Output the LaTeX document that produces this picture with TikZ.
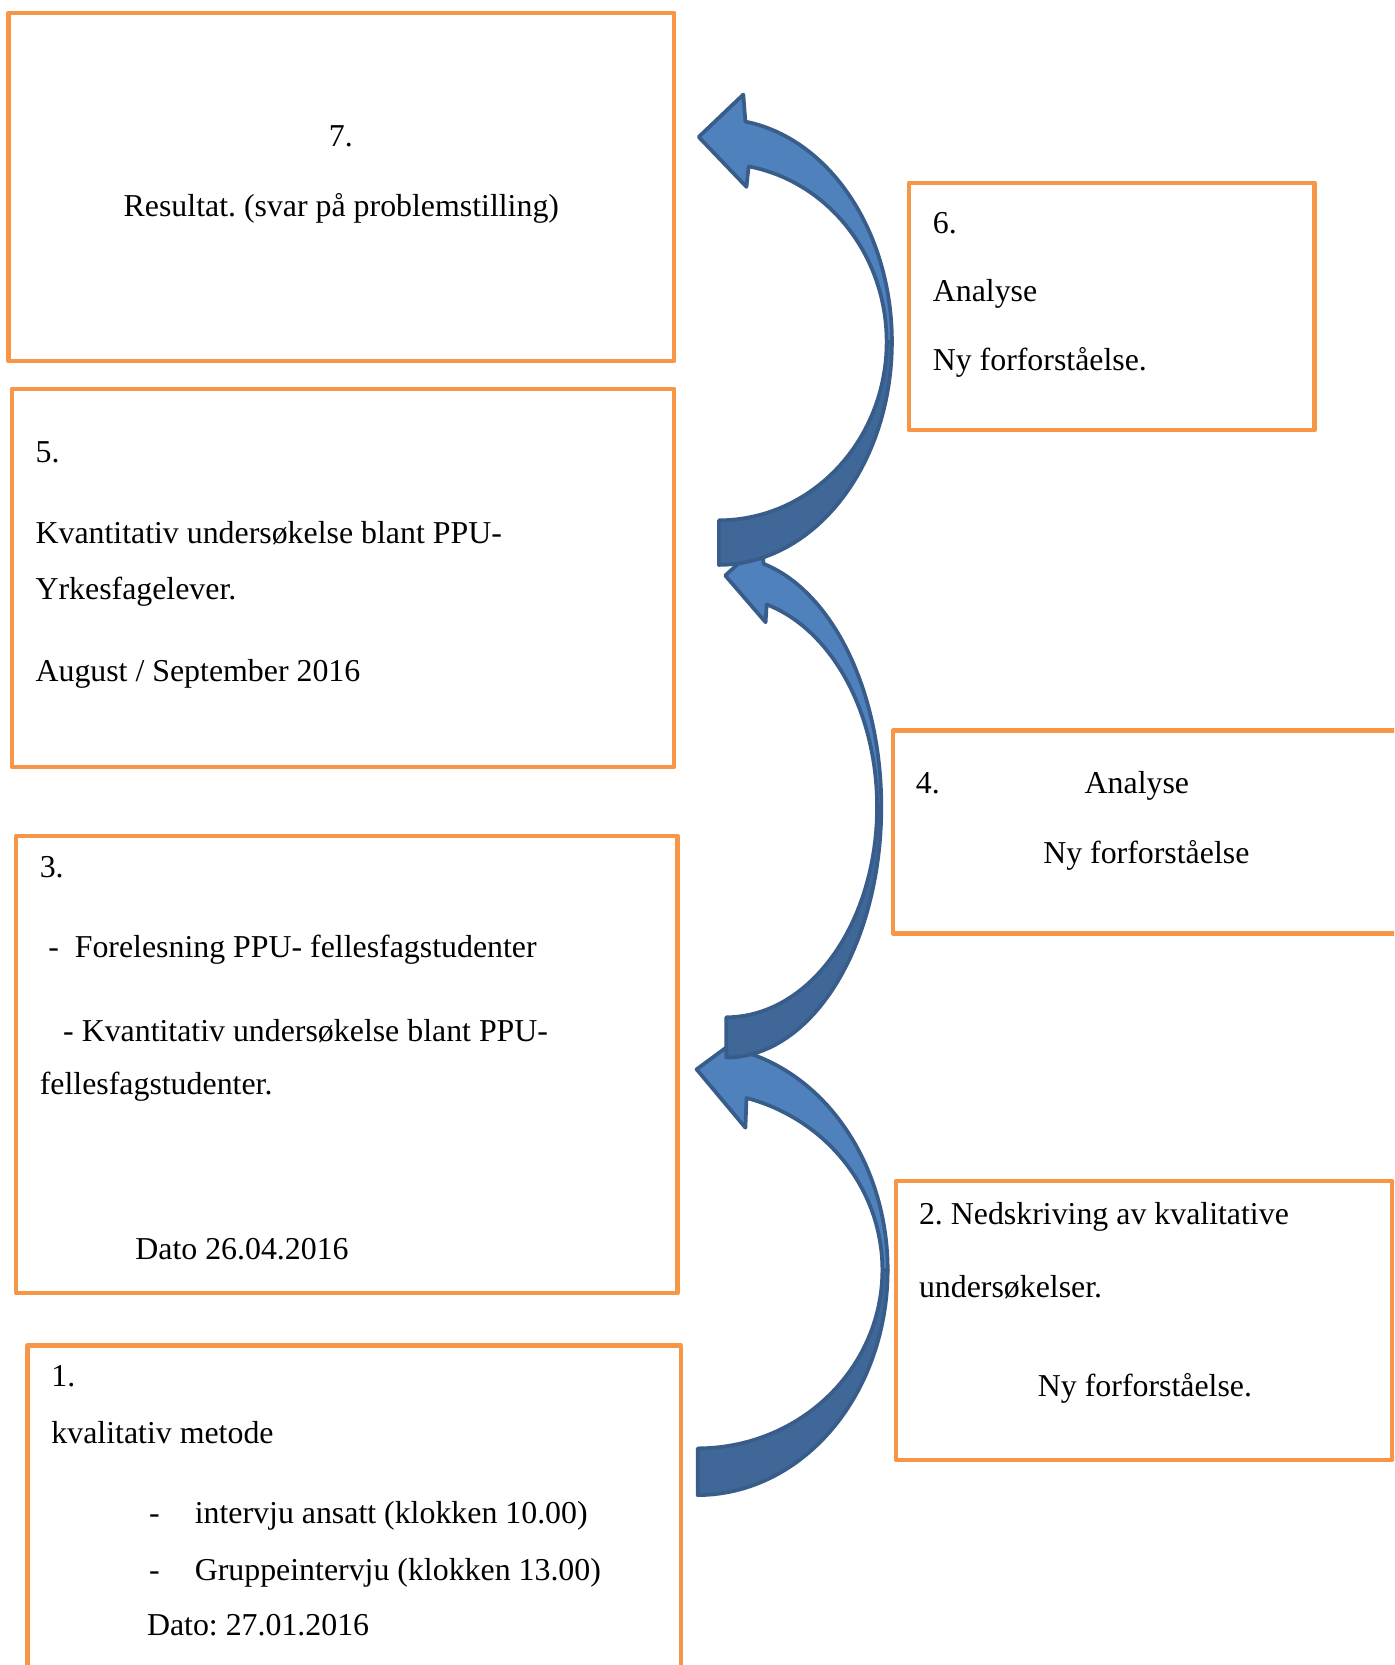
\documentclass[tikz,border=0pt]{standalone}
\usepackage{fontspec}
\setmainfont{Liberation Serif}
\frenchspacing
\definecolor{boxorange}{HTML}{F79646}
\definecolor{arrowlight}{HTML}{4F81BD}
\definecolor{arrowdark}{HTML}{3F6797}
\definecolor{arrowline}{HTML}{385D8A}
\tikzset{
  stagebox/.style={draw=boxorange, line width=1.6pt, line join=round},
  txt/.style={anchor=base west, inner sep=0pt, font=\fontsize{12}{14}\selectfont},
  ctxt/.style={anchor=base, inner sep=0pt, font=\fontsize{12}{14}\selectfont},
  backband/.style={fill=arrowdark, draw=arrowline, line width=1.4pt, line join=round},
  frontband/.style={fill=arrowlight, draw=arrowline, line width=1.4pt, line join=round}
}
\begin{document}
\begin{tikzpicture}[x=0.4pt, y=-0.4pt]
\clip (0,0) rectangle (1313,1568);
\fill[white] (0,0) rectangle (1313,1568);

% boxes
\draw[stagebox] (8,12) rectangle (635,340);
\draw[stagebox] (856,172) rectangle (1238,405);
\draw[stagebox] (11,366) rectangle (635,722);
\draw[stagebox] (841,688) rectangle (1340,879);
\draw[stagebox] (15,787) rectangle (638,1218);
\draw[stagebox] (844,1112) rectangle (1311,1375);
\draw[stagebox] (26,1267) rectangle (641,1600);

% box 7
\node[ctxt] (t7a) at (321,138) {7.};
\node[txt] (t7b) at (116,204) {Resultat. (svar på problemstilling)};
% box 6
\node[txt] (t6a) at (878,220) {6.};
\node[txt] (t6b) at (878,284) {Analyse};
\node[txt] (t6c) at (878,349) {Ny forforståelse.};
% box 5
\node[txt] (t5a) at (33,436) {5.};
\node[txt] (t5b) at (33,512) {Kvantitativ undersøkelse blant PPU-};
\node[txt] (t5c) at (33,565) {Yrkesfagelever.};
\node[txt] (t5d) at (33,642) {August / September 2016};
% box 4
\node[txt] (t4a) at (862,747) {4.};
\node[txt] (t4b) at (1021,747) {Analyse};
\node[txt] (t4c) at (982,813) {Ny forforståelse};
% box 3
\node[txt] (t3a) at (37,826) {3.};
\node[txt] (t3b) at (45,902) {-\ \ Forelesning PPU- fellesfagstudenter};
\node[txt] (t3c) at (59,981) {- Kvantitativ undersøkelse blant PPU-};
\node[txt] (t3d) at (37,1031) {fellesfagstudenter.};
\node[txt] (t3e) at (127,1186) {Dato 26.04.2016};
% box 2
\node[txt] (t2a) at (865,1153) {2. Nedskriving av kvalitative};
\node[txt] (t2b) at (865,1222) {undersøkelser.};
\node[txt] (t2c) at (977,1315) {Ny forforståelse.};
% box 1
\node[txt] (t1a) at (48,1306) {1.};
\node[txt] (t1b) at (48,1359) {kvalitativ metode};
\node[txt] (t1c) at (140,1435) {-};
\node[txt] (t1d) at (183,1435) {intervju ansatt (klokken 10.00)};
\node[txt] (t1e) at (140,1488) {-};
\node[txt] (t1f) at (183,1488) {Gruppeintervju (klokken 13.00)};
\node[txt] (t1g) at (138,1540) {Dato: 27.01.2016};

% arrow C (bottom): box 1 -> box 3
\filldraw[backband] plot[domain=90:0, samples=40] ({657+179*cos(\x)},{1196+212*sin(\x)})
  -- plot[domain=0:90, samples=40] ({657+174*cos(\x)},{1196+168*sin(\x)}) -- cycle;
\filldraw[frontband] plot[domain=0:-73.45, samples=40] ({657+179*cos(\x)},{1196+212*sin(\x)})
  -- (709,968) -- (656,1007) -- (702,1062)
  -- plot[domain=-74.67:0, samples=40] ({657+174*cos(\x)},{1196+168*sin(\x)}) -- cycle;

% arrow B (middle): box 3 -> box 5
\filldraw[backband] plot[domain=90:0, samples=40] ({684+146*cos(\x)},{760+236*sin(\x)})
  -- plot[domain=0:90, samples=40] ({684+142*cos(\x)},{760+198*sin(\x)}) -- cycle;
\filldraw[frontband] plot[domain=0:-76.13, samples=40] ({684+146*cos(\x)},{760+236*sin(\x)})
  -- (718,510) -- (683,542) -- (721,586)
  -- plot[domain=-74.48:0, samples=40] ({684+142*cos(\x)},{760+198*sin(\x)}) -- cycle;

% arrow A (top): box 5 -> box 7
\filldraw[backband] plot[domain=90:0, samples=40] ({677+163*cos(\x)},{322+210*sin(\x)})
  -- plot[domain=0:90, samples=40] ({677+158*cos(\x)},{322+168*sin(\x)}) -- cycle;
\filldraw[frontband] plot[domain=0:-81.18, samples=40] ({677+163*cos(\x)},{322+210*sin(\x)})
  -- (700,89) -- (658,129) -- (703,176)
  -- plot[domain=-79.79:0, samples=40] ({677+158*cos(\x)},{322+168*sin(\x)}) -- cycle;
\end{tikzpicture}
\end{document}
